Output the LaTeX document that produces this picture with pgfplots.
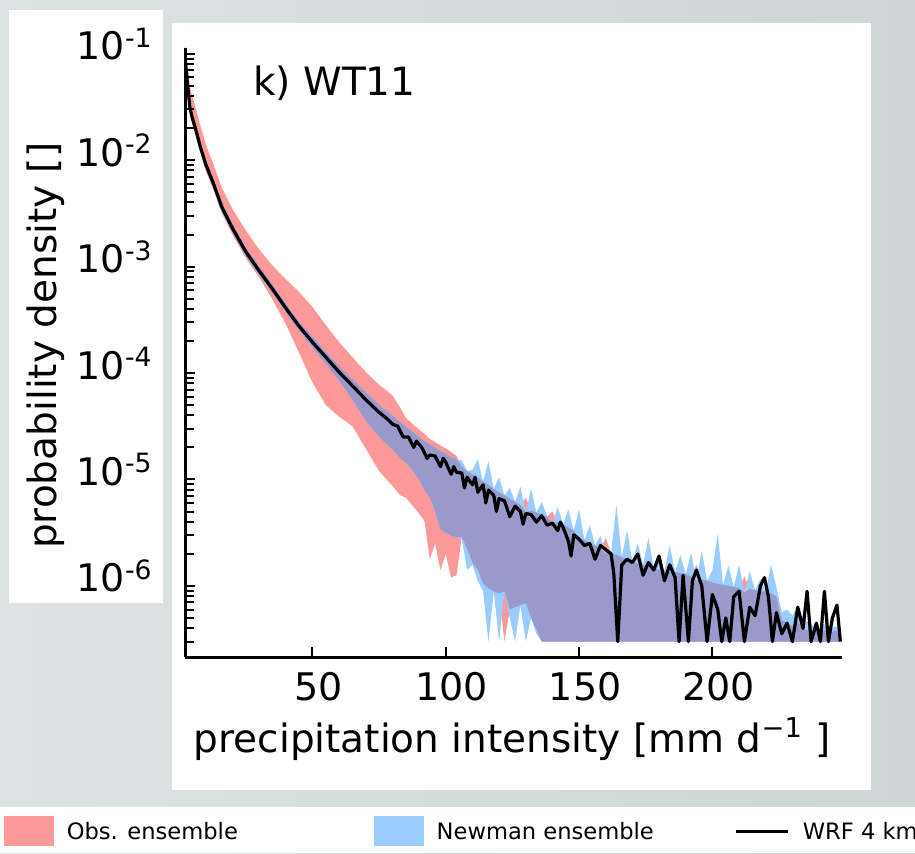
\documentclass[border=0pt]{standalone}
\usepackage{fontspec}
\setmainfont{DejaVu Sans}
\usepackage{pgfplots}
\usepackage{pgfplotstable}
\pgfplotsset{compat=1.18}
\usepgfplotslibrary{fillbetween}

\definecolor{obsred}{RGB}{255,153,153}
\definecolor{newblue}{RGB}{153,204,255}
\definecolor{overlap}{RGB}{153,153,204}
\definecolor{bgl}{RGB}{221,226,226}
\definecolor{bgr}{RGB}{207,213,214}

% WRF 4 km pdf
\pgfplotstableread{
x y
2 1.00e-1
3 5.62e-2
4 3.16e-2
5 2.45e-2
6 2.04e-2
8 1.32e-2
10 9.12e-3
13 5.89e-3
16 3.63e-3
20 2.29e-3
25 1.38e-3
30 9.12e-4
35 6.17e-4
40 4.07e-4
45 2.75e-4
50 1.95e-4
55 1.41e-4
60 1.02e-4
65 7.59e-5
70 5.62e-5
75 4.27e-5
78 3.72e-5
80 3.31e-5
82 3.16e-5
84 2.51e-5
86 2.51e-5
88 2.00e-5
89 2.29e-5
91 2.00e-5
93 1.58e-5
94 1.70e-5
96 1.66e-5
98 1.32e-5
99 1.58e-5
100 1.45e-5
102 1.12e-5
103 1.32e-5
104 1.17e-5
106 1.15e-5
107 8.32e-6
108 1.05e-5
110 8.91e-6
111 1.05e-5
112 7.59e-6
114 8.91e-6
115 6.03e-6
116 7.94e-6
118 7.08e-6
119 5.01e-6
120 6.61e-6
122 6.31e-6
124 4.47e-6
126 5.62e-6
128 5.01e-6
129 3.80e-6
130 4.79e-6
132 4.68e-6
134 3.98e-6
136 4.57e-6
138 3.72e-6
140 3.89e-6
142 3.31e-6
143 3.98e-6
144 3.55e-6
146 2.63e-6
147 1.91e-6
148 3.02e-6
150 2.75e-6
152 2.40e-6
154 2.51e-6
156 1.78e-6
158 2.40e-6
160 2.19e-6
162 2.00e-6
163 1.32e-6
164.5 3.0e-7
166 1.58e-6
168 1.78e-6
170 1.66e-6
172 2.00e-6
174 1.26e-6
176 1.66e-6
178 1.41e-6
180 1.91e-6
182 1.12e-6
184 1.58e-6
186 1.20e-6
187.5 3.0e-7
189 1.26e-6
191 3.0e-7
192.5 1.12e-6
194 1.41e-6
196 1.00e-6
198 3.0e-7
200 8.32e-7
202 6.03e-7
203.5 3.0e-7
205 5.01e-7
206.5 3.0e-7
208 7.94e-7
210 8.91e-7
212 3.0e-7
214 6.31e-7
216 5.25e-7
218 1.00e-6
219.5 1.20e-6
221 7.94e-7
222.5 3.0e-7
224 5.62e-7
226 3.55e-7
228 4.47e-7
230 3.0e-7
232 6.31e-7
234 3.98e-7
235.5 8.91e-7
237 3.0e-7
239 4.47e-7
240.5 3.0e-7
242 8.91e-7
243.5 3.0e-7
245 5.01e-7
246.7 6.61e-7
248 3.0e-7
}\wrf

% ensemble envelopes: obs (ol,ou), Newman (nl,nu), their overlap (pl,pu)
\pgfplotstableread{
x ol ou nl nu pl pu
2 7.59e-2 1.58e-1 9.12e-2 1.10e-1 9.12e-2 1.10e-1
3 4.47e-2 8.91e-2 5.13e-2 6.17e-2 5.13e-2 6.17e-2
4 2.75e-2 5.01e-2 2.88e-2 3.47e-2 2.88e-2 3.47e-2
5 2.14e-2 3.89e-2 2.24e-2 2.69e-2 2.24e-2 2.69e-2
6 1.78e-2 3.24e-2 1.86e-2 2.24e-2 1.86e-2 2.24e-2
8 1.15e-2 2.09e-2 1.20e-2 1.45e-2 1.20e-2 1.45e-2
10 7.94e-3 1.41e-2 8.32e-3 1.00e-2 8.32e-3 1.00e-2
13 5.13e-3 8.91e-3 5.37e-3 6.46e-3 5.37e-3 6.46e-3
16 3.16e-3 5.50e-3 3.31e-3 3.98e-3 3.31e-3 3.98e-3
20 2.00e-3 3.47e-3 2.09e-3 2.51e-3 2.09e-3 2.51e-3
25 1.20e-3 2.19e-3 1.26e-3 1.51e-3 1.26e-3 1.51e-3
30 7.94e-4 1.45e-3 8.32e-4 1.00e-3 8.32e-4 1.00e-3
35 4.90e-4 1.02e-3 5.62e-4 6.76e-4 5.62e-4 6.76e-4
40 2.88e-4 7.59e-4 3.72e-4 4.47e-4 3.72e-4 4.47e-4
45 1.55e-4 5.75e-4 2.51e-4 3.02e-4 2.51e-4 3.02e-4
50 8.13e-5 4.17e-4 1.74e-4 2.19e-4 1.74e-4 2.19e-4
55 5.01e-5 2.82e-4 1.23e-4 1.58e-4 1.23e-4 1.58e-4
60 3.89e-5 1.95e-4 8.51e-5 1.15e-4 8.51e-5 1.15e-4
65 3.16e-5 1.41e-4 5.62e-5 8.71e-5 5.62e-5 8.71e-5
70 1.95e-5 1.02e-4 3.55e-5 6.61e-5 3.55e-5 6.61e-5
75 1.20e-5 7.76e-5 2.51e-5 5.01e-5 2.51e-5 5.01e-5
80 8.71e-6 6.17e-5 1.91e-5 3.98e-5 1.91e-5 3.98e-5
83 7.08e-6 4.68e-5 1.58e-5 3.47e-5 1.58e-5 3.47e-5
85 6.76e-6 3.80e-5 1.45e-5 3.16e-5 1.45e-5 3.16e-5
88 5.50e-6 3.24e-5 1.17e-5 2.75e-5 1.17e-5 2.75e-5
90 4.79e-6 2.95e-5 1.00e-5 2.51e-5 1.00e-5 2.51e-5
92 4.07e-6 2.69e-5 7.94e-6 2.29e-5 7.94e-6 2.29e-5
94 1.78e-6 2.40e-5 6.76e-6 2.14e-5 6.76e-6 2.14e-5
96 2.51e-6 2.24e-5 5.01e-6 2.00e-5 5.01e-6 2.00e-5
98 1.41e-6 2.09e-5 3.39e-6 1.86e-5 3.39e-6 1.86e-5
100 2.00e-6 1.95e-5 3.16e-6 1.74e-5 3.16e-6 1.74e-5
102 1.20e-6 1.82e-5 2.95e-6 1.62e-5 2.95e-6 1.62e-5
104 1.26e-6 1.66e-5 2.88e-6 1.55e-5 2.88e-6 1.55e-5
106 2.88e-6 1.32e-5 2.75e-6 1.51e-5 2.88e-6 1.32e-5
108 2.24e-6 1.20e-5 1.41e-6 1.20e-5 2.24e-6 1.20e-5
110 1.66e-6 1.12e-5 1.58e-6 1.23e-5 1.66e-6 1.12e-5
112 1.41e-6 1.05e-5 1.12e-6 1.55e-5 1.41e-6 1.05e-5
114 1.05e-6 9.55e-6 8.91e-7 9.55e-6 1.05e-6 9.55e-6
116 9.55e-7 8.91e-6 3.0e-7 1.48e-5 9.55e-7 8.91e-6
118 8.91e-7 8.13e-6 8.91e-7 8.13e-6 8.91e-7 8.13e-6
120 8.51e-7 7.59e-6 3.0e-7 1.05e-5 8.51e-7 7.59e-6
122 3.0e-7 7.08e-6 8.91e-7 7.08e-6 8.91e-7 7.08e-6
124 6.03e-7 6.61e-6 5.01e-7 8.32e-6 6.03e-7 6.61e-6
126 6.31e-7 6.17e-6 3.0e-7 6.17e-6 6.31e-7 6.17e-6
128 6.61e-7 5.75e-6 6.61e-7 8.51e-6 6.61e-7 5.75e-6
130 6.92e-7 6.76e-6 3.0e-7 4.90e-6 6.92e-7 4.90e-6
132 5.01e-7 5.13e-6 5.01e-7 8.13e-6 5.01e-7 5.13e-6
134 3.89e-7 4.90e-6 3.55e-7 4.90e-6 3.89e-7 4.90e-6
136 3.0e-7 4.68e-6 3.0e-7 6.17e-6 3.0e-7 4.68e-6
138 3.0e-7 4.47e-6 3.0e-7 4.47e-6 3.0e-7 4.47e-6
140 3.0e-7 5.01e-6 3.0e-7 3.89e-6 3.0e-7 3.89e-6
142 3.0e-7 3.98e-6 3.0e-7 5.50e-6 3.0e-7 3.98e-6
144 3.0e-7 3.80e-6 3.0e-7 3.80e-6 3.0e-7 3.80e-6
146 3.0e-7 3.55e-6 3.0e-7 5.25e-6 3.0e-7 3.55e-6
148 3.0e-7 3.31e-6 3.0e-7 3.31e-6 3.0e-7 3.31e-6
150 3.0e-7 2.82e-6 3.0e-7 5.25e-6 3.0e-7 2.82e-6
152 3.0e-7 2.69e-6 3.0e-7 2.69e-6 3.0e-7 2.69e-6
154 3.0e-7 2.51e-6 3.0e-7 3.72e-6 3.0e-7 2.51e-6
156 3.0e-7 2.40e-6 3.0e-7 2.40e-6 3.0e-7 2.40e-6
158 3.0e-7 2.24e-6 3.0e-7 2.95e-6 3.0e-7 2.24e-6
160 3.0e-7 2.82e-6 3.0e-7 2.00e-6 3.0e-7 2.00e-6
162 3.0e-7 2.04e-6 3.0e-7 2.04e-6 3.0e-7 2.04e-6
164 3.0e-7 1.95e-6 3.0e-7 5.75e-6 3.0e-7 1.95e-6
166 3.0e-7 1.86e-6 3.0e-7 1.86e-6 3.0e-7 1.86e-6
168 3.0e-7 1.78e-6 3.0e-7 3.31e-6 3.0e-7 1.78e-6
170 3.0e-7 1.70e-6 3.0e-7 1.70e-6 3.0e-7 1.70e-6
172 3.0e-7 1.62e-6 3.0e-7 2.51e-6 3.0e-7 1.62e-6
174 3.0e-7 1.58e-6 3.0e-7 1.58e-6 3.0e-7 1.58e-6
176 3.0e-7 1.51e-6 3.0e-7 2.82e-6 3.0e-7 1.51e-6
178 3.0e-7 1.48e-6 3.0e-7 1.48e-6 3.0e-7 1.48e-6
180 3.0e-7 1.41e-6 3.0e-7 1.86e-6 3.0e-7 1.41e-6
182 3.0e-7 1.38e-6 3.0e-7 1.38e-6 3.0e-7 1.38e-6
184 3.0e-7 1.35e-6 3.0e-7 2.40e-6 3.0e-7 1.35e-6
186 3.0e-7 1.35e-6 3.0e-7 1.35e-6 3.0e-7 1.35e-6
188 3.0e-7 1.32e-6 3.0e-7 1.95e-6 3.0e-7 1.32e-6
190 3.0e-7 1.29e-6 3.0e-7 1.29e-6 3.0e-7 1.29e-6
192 3.0e-7 1.23e-6 3.0e-7 2.04e-6 3.0e-7 1.23e-6
194 3.0e-7 1.58e-6 3.0e-7 1.12e-6 3.0e-7 1.12e-6
196 3.0e-7 1.15e-6 3.0e-7 2.14e-6 3.0e-7 1.15e-6
198 3.0e-7 1.12e-6 3.0e-7 1.12e-6 3.0e-7 1.12e-6
200 3.0e-7 1.07e-6 3.0e-7 1.41e-6 3.0e-7 1.07e-6
202 3.0e-7 1.05e-6 3.0e-7 3.09e-6 3.0e-7 1.05e-6
204 3.0e-7 1.02e-6 3.0e-7 1.02e-6 3.0e-7 1.02e-6
206 3.0e-7 1.00e-6 3.0e-7 1.55e-6 3.0e-7 1.00e-6
208 3.0e-7 9.77e-7 3.0e-7 9.77e-7 3.0e-7 9.77e-7
210 3.0e-7 9.55e-7 3.0e-7 1.58e-6 3.0e-7 9.55e-7
212 3.0e-7 1.23e-6 3.0e-7 8.71e-7 3.0e-7 8.71e-7
214 3.0e-7 9.33e-7 3.0e-7 1.38e-6 3.0e-7 9.33e-7
216 3.0e-7 9.12e-7 3.0e-7 9.12e-7 3.0e-7 9.12e-7
218 3.0e-7 8.91e-7 3.0e-7 1.17e-6 3.0e-7 8.91e-7
220 3.0e-7 8.91e-7 3.0e-7 8.91e-7 3.0e-7 8.91e-7
222 3.0e-7 8.51e-7 3.0e-7 1.58e-6 3.0e-7 8.51e-7
224 3.0e-7 7.94e-7 3.0e-7 9.77e-7 3.0e-7 7.94e-7
226 3.0e-7 5.01e-7 3.0e-7 5.62e-7 3.0e-7 4.79e-7
228 3.0e-7 4.79e-7 3.0e-7 6.03e-7 3.0e-7 4.47e-7
230 3.0e-7 4.47e-7 3.0e-7 5.25e-7 3.0e-7 4.17e-7
232 3.0e-7 5.01e-7 3.0e-7 6.61e-7 3.0e-7 4.68e-7
234 3.0e-7 4.17e-7 3.0e-7 5.01e-7 3.0e-7 3.98e-7
236 3.0e-7 3.98e-7 3.0e-7 4.47e-7 3.0e-7 3.80e-7
238 3.0e-7 3.98e-7 3.0e-7 4.17e-7 3.0e-7 3.80e-7
240 3.0e-7 3.80e-7 3.0e-7 3.98e-7 3.0e-7 3.63e-7
242 3.0e-7 3.98e-7 3.0e-7 4.37e-7 3.0e-7 3.80e-7
244 3.0e-7 3.80e-7 3.0e-7 3.98e-7 3.0e-7 3.63e-7
246 3.0e-7 3.98e-7 3.0e-7 4.17e-7 3.0e-7 3.80e-7
248 3.0e-7 3.80e-7 3.0e-7 3.98e-7 3.0e-7 3.63e-7
}\bands

\begin{document}
\begin{tikzpicture}
\begin{axis}[
  at={(92.5pt,98pt)}, anchor=south west,
  scale only axis, width=328.5pt, height=304.5pt,
  set layers, axis on top,
  clip mode=individual,
  xmin=2.2, xmax=248.6,
  ymode=log, ymin=2.15e-7, ymax=0.113,
  axis x line*=bottom, axis y line*=left,
  axis line style={line width=1.5pt},
  tick align=inside,
  major tick length=5pt, minor tick length=4.5pt,
  tick style={black, line width=1pt},
  xtick={50,100,150,200},
  xticklabels={50,100,150,200},
  ytick={1e-1,1e-2,1e-3,1e-4,1e-5,1e-6},
  yticklabels={10\textsuperscript{-1},10\textsuperscript{-2},10\textsuperscript{-3},10\textsuperscript{-4},10\textsuperscript{-5},10\textsuperscript{-6}},
  minor ytick={3e-7,4e-7,5e-7,6e-7,7e-7,8e-7,9e-7,
    2e-6,3e-6,4e-6,5e-6,6e-6,7e-6,8e-6,9e-6,
    2e-5,3e-5,4e-5,5e-5,6e-5,7e-5,8e-5,9e-5,
    2e-4,3e-4,4e-4,5e-4,6e-4,7e-4,8e-4,9e-4,
    2e-3,3e-3,4e-3,5e-3,6e-3,7e-3,8e-3,9e-3,
    2e-2,3e-2,4e-2,5e-2,6e-2,7e-2,8e-2,9e-2},
  every tick label/.append style={font=\fontsize{19}{22}\selectfont},
  xticklabel style={anchor=base, inner sep=0pt, yshift=-21.5pt, xshift=3pt},
  yticklabel style={anchor=base east, inner sep=0pt, xshift=-16pt, yshift=-3pt},
  label style={font=\fontsize{19.5}{22}\selectfont},
  xlabel={precipitation intensity [mm d\textsuperscript{−1} ]},
  xlabel style={at={(axis description cs:0.498,-0.1576)}, anchor=base, inner sep=0pt},
  ylabel={probability density []},
  ylabel style={at={(axis description cs:-0.1826,0.511)}, anchor=south, inner sep=0pt},
  title={k) WT11},
  title style={at={(axis description cs:0.1035,0.9015)}, anchor=base west, inner sep=0pt,
    font=\fontsize{19.5}{22}\selectfont},
  legend columns=3,
  legend style={at={(axis description cs:-0.2755,-0.2858)}, anchor=west,
    draw=none, fill=none, inner sep=0pt, outer sep=0pt,
    font=\fontsize{11.3}{13}\selectfont,
    nodes={inner sep=0pt},
    /tikz/every odd column/.style={column sep=6.5pt},
    /tikz/column 2/.style={column sep=68pt},
    /tikz/column 4/.style={column sep=40.5pt}},
  legend cell align=left,
]
% grey page and white panels behind everything
\begin{pgfonlayer}{axis background}
\shade[left color=bgl,right color=bgr]
  (rel axis cs:-0.28158,-0.32184) rectangle (rel axis cs:1.11111,1.07882);
\fill[white] (rel axis cs:-0.26788,0.08867) rectangle (rel axis cs:-0.03349,1.06240);
\fill[white] (rel axis cs:-0.01979,-0.21839) rectangle (rel axis cs:1.04414,1.04105);
\fill[white] (rel axis cs:-0.28158,-0.32184) rectangle (rel axis cs:1.11111,-0.24631);
\end{pgfonlayer}

\addlegendimage{legend image code/.code={\fill[obsred] (0pt,-5.75pt) rectangle (24.5pt,8.75pt);}}
\addlegendentry{\raisebox{1.5pt}{Obs. ensemble}}
\addlegendimage{legend image code/.code={\fill[newblue] (0pt,-5.75pt) rectangle (24.5pt,8.75pt);}}
\addlegendentry{\raisebox{1.5pt}{Newman ensemble}}
\addlegendimage{legend image code/.code={\draw[black,line width=1.5pt] (0pt,1.5pt) -- (26pt,1.5pt);}}
\addlegendentry{\raisebox{1.5pt}{WRF 4 km}}

\addplot[name path=ou, draw=none, forget plot] table[x=x, y=ou] {\bands};
\addplot[name path=ol, draw=none, forget plot] table[x=x, y=ol] {\bands};
\addplot[fill=obsred, draw=none, forget plot] fill between[of=ou and ol];

\addplot[name path=nu, draw=none, forget plot] table[x=x, y=nu] {\bands};
\addplot[name path=nl, draw=none, forget plot] table[x=x, y=nl] {\bands};
\addplot[fill=newblue, draw=none, forget plot] fill between[of=nu and nl];

\addplot[name path=pu, draw=none, forget plot] table[x=x, y=pu] {\bands};
\addplot[name path=pl, draw=none, forget plot] table[x=x, y=pl] {\bands};
\addplot[fill=overlap, draw=none, forget plot] fill between[of=pu and pl];

\addplot[black, line width=1.6pt, line join=round, forget plot] table[x=x, y=y] {\wrf};
\end{axis}
\pgfresetboundingbox
\path[use as bounding box] (0pt,0pt) rectangle (457.5pt,426.5pt);
\end{tikzpicture}
\end{document}
